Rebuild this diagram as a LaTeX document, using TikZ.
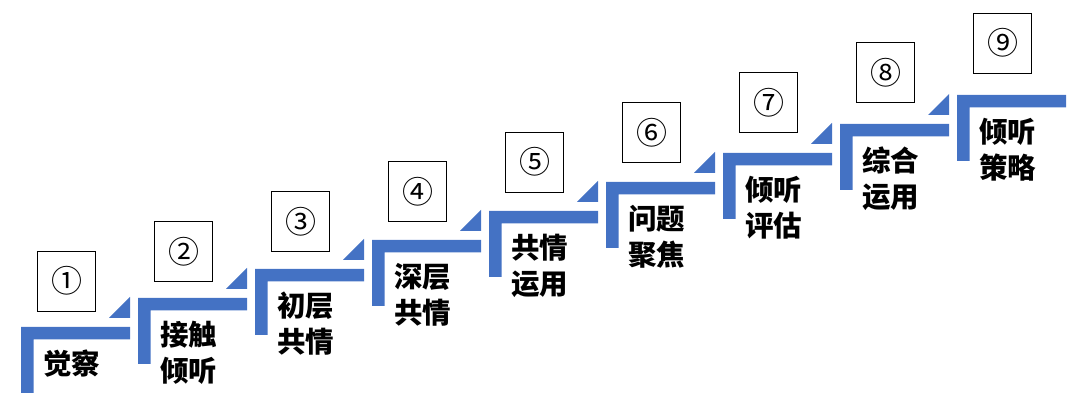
\documentclass[tikz,border=0pt]{standalone}
\usepackage{fontspec}
\newfontfamily\cjk{Noto Sans CJK SC}
\definecolor{stepblue}{HTML}{4472C4}
\tikzset{
  stepbar/.style={fill=stepblue},
  numbox/.style={draw=black, line width=0.9pt, minimum width=58pt, minimum height=60pt, inner sep=0pt, font=\cjk\fontsize{31}{34}\selectfont},
  steplab/.style={anchor=base west, inner sep=0pt, font=\cjk\bfseries\fontsize{28.5}{34}\selectfont}
}
\begin{document}
\begin{tikzpicture}[x=1pt,y=1pt]
\useasboundingbox (0,0) rectangle (1080,406);
\foreach \k/\num/\la/\lb in {1/①/觉察/{},2/②/接触/倾听,3/③/初层/共情,4/④/深层/共情,5/⑤/共情/运用,6/⑥/问题/聚焦,7/⑦/倾听/评估,8/⑧/综合/运用,9/⑨/倾听/策略}{
  \pgfmathsetmacro\L{21+117*(\k-1)}
  \pgfmathsetmacro\T{79+29*(\k-1)}
  \pgfmathsetmacro\By{95+29.75*(\k-1)}
  \fill[stepbar] (\L,\T) -- ++(109,0) -- ++(0,-12.5) -- ++(-96.5,0) -- ++(0,-53.5) -- ++(-12.5,0) -- cycle;
  \ifnum\k<9
    \fill[stepbar] (\L+88,\T+9) -- ++(21,0) -- ++(0,21) -- cycle;
  \fi
  \node[numbox] (box\k) at (\L+45.5,\By+30) {\num};
  \node[steplab] (la\k) at (\L+22,\T-48) {\la};
  \node[steplab] (lb\k) at (\L+22,\T-84) {\lb};
}
\end{tikzpicture}
\end{document}
